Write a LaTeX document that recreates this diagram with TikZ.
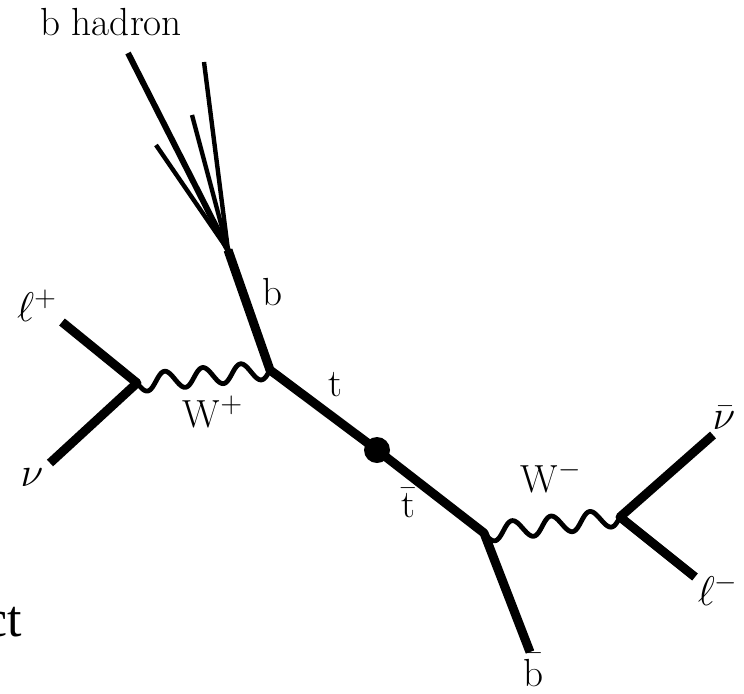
\documentclass[tikz,border=0pt]{standalone}
\usepackage{fontspec}
\newfontfamily\slidefont{Liberation Serif}
\usetikzlibrary{calc}
\begin{document}
\begin{tikzpicture}[x=0.5pt,y=-0.5pt,
  fermion/.style={line width=4.5pt,line join=round},
  jetmain/.style={line width=3pt},
  jetthin/.style={line width=2.2pt},
  boson/.style={line width=2.4pt,line join=round},
  lbl/.style={font=\fontsize{19.6}{23}\selectfont,inner sep=0pt}]
\useasboundingbox (0,0) rectangle (744,693);
% vertices
\coordinate (J) at (228,250);
\coordinate (V1) at (270,370);
\coordinate (D) at (377,450);
\coordinate (V2) at (484,533);
\coordinate (L1) at (137,383);
\coordinate (L2) at (620,517);
\coordinate (lpend) at (62,322);
\coordinate (nuend) at (50,463);
\coordinate (bbend) at (530,652);
\coordinate (nbend) at (713,435);
\coordinate (lmend) at (695,577);
\coordinate (j1) at (128,53);
\coordinate (j2) at (204,62);
\coordinate (j3) at (192,115);
\coordinate (j4) at (156,145);
% W bosons (wavy lines from vertex to vertex)
\draw[boson] let \p1=($(V1)-(L1)$), \n1={atan2(\y1,\x1)}, \n2={scalar(veclen(\x1,\y1))} in
  [shift={(L1)},rotate=\n1] plot[variable=\t,domain=0:\n2,samples=140,smooth]
  ({\t*1pt},{-4.5pt*sin(\t/\n2*360*3.5)});
\draw[boson] let \p1=($(L2)-(V2)$), \n1={atan2(\y1,\x1)}, \n2={scalar(veclen(\x1,\y1))} in
  [shift={(V2)},rotate=\n1] plot[variable=\t,domain=0:\n2,samples=140,smooth]
  ({\t*1pt},{-4.5pt*sin(\t/\n2*360*3.5)});
% jets
\draw[jetmain] (J) -- (j1);
\draw[jetthin] (J) -- (j2);
\draw[jetthin] (J) -- (j3);
\draw[jetthin] (J) -- (j4);
% fermion lines
\draw[fermion] (J) -- (V1) -- (D) -- (V2) -- (bbend);
\draw[fermion] (lpend) -- (L1) -- (nuend);
\draw[fermion] (nbend) -- (L2) -- (lmend);
% blob
\node[circle,fill=black,minimum size=13pt,inner sep=0pt] (dot) at (D) {};
% labels
\node[lbl] (bhad) at (111,22) {b hadron};
\node[lbl] (lp) at (37,306) {$\ell^+$};
\node[lbl] (nu) at (32,478) {$\nu$};
\node[lbl] (Wp) at (213,412) {W$^+$};
\node[lbl] (bl) at (273,292) {b};
\node[lbl] (tl) at (335,385) {t};
\node[lbl] (tbl) at (408,503) {$\bar{\mathrm{t}}$};
\node[lbl] (Wm) at (551,477) {W$^-$};
\node[lbl] (nbl) at (724,418) {$\bar\nu$};
\node[lbl] (lml) at (718,590) {$\ell^-$};
\node[lbl] (bbl) at (534,670) {$\bar{\mathrm{b}}$};
\node[font=\slidefont\fontsize{26}{30}\selectfont,inner sep=0pt,anchor=base east] (ct) at (22,636) {ct};
\end{tikzpicture}
\end{document}
